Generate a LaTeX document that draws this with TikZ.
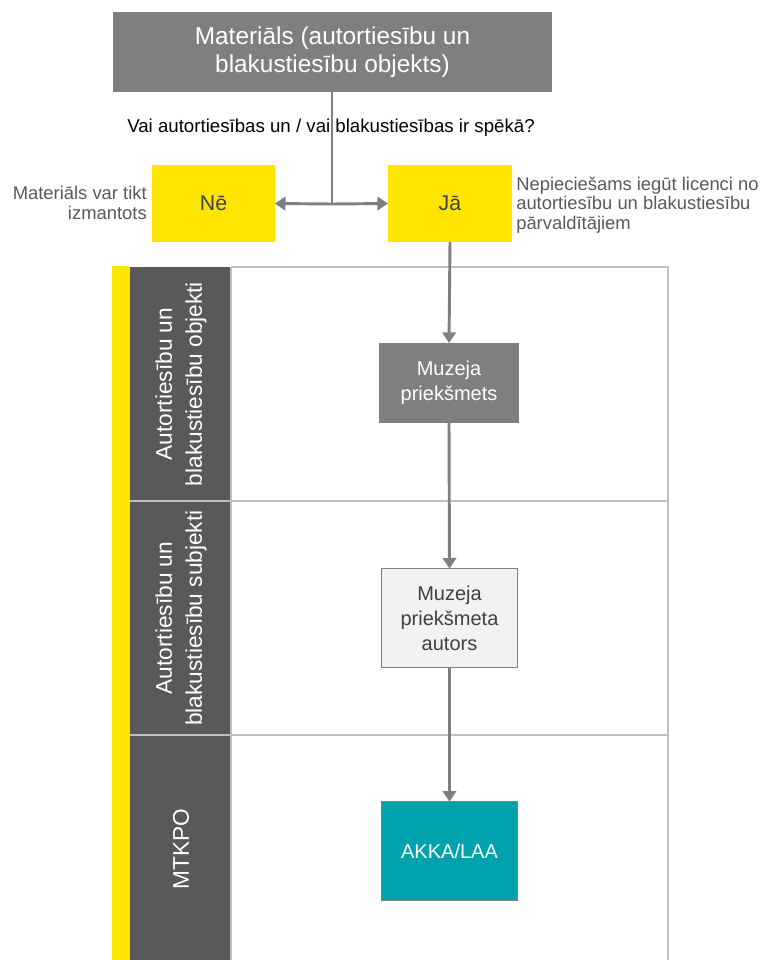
\documentclass[tikz,border=0pt]{standalone}
\usepackage{fontspec}
\setmainfont{Liberation Sans}
\usetikzlibrary{arrows.meta}
\usepackage{xcolor}
\definecolor{midgray}{HTML}{7F7F7F}
\definecolor{darkgray}{HTML}{595959}
\definecolor{textgray}{HTML}{404040}
\definecolor{lanegray}{HTML}{BFBFBF}
\definecolor{signyellow}{HTML}{FFE500}
\definecolor{boxteal}{HTML}{00A3AD}
\definecolor{paleface}{HTML}{F2F2F2}

\tikzset{
box/.style={inner sep=0, outer sep=0, align=center, font=\fontsize{15}{18.75}\selectfont},
answer/.style={box, fill=signyellow, text=textgray, minimum height=58pt, font=\fontsize{16}{19}\selectfont},
note/.style={text=darkgray, inner sep=0, font=\fontsize{13.8}{14.5}\selectfont},
lanehead/.style={rotate=90, text=white, align=center, font=\fontsize{17}{22.5}\selectfont},
flow/.style={midgray, line width=2.2pt, ->}
}

\begin{document}
\begin{tikzpicture}[x=0.75pt, y=-0.75pt, >={Triangle[width=10pt,length=8pt]}]
\useasboundingbox (0,0) rectangle (765,960);
\fill[signyellow] (112,266) rectangle (130,960);
\fill[darkgray] (130,267) rectangle (231,960);
\draw[lanegray, line width=0.8pt] (231,267) -- (668,267) -- (668,960);
\draw[lanegray, line width=0.8pt] (231,267) -- (231,960);
\foreach \y in {501,735} {
\draw[lanegray, line width=0.8pt] (130,\y) -- (668,\y);
}
\node[lanehead] (objekti) at (181,384) {Autortiesību un\\blakustiesību objekti};
\node[lanehead] (subjekti) at (181,618) {Autortiesību un\\blakustiesību subjekti};
\node[lanehead] (mtkpo) at (181,849) {MTKPO};

\node[box, fill=midgray, text=white, minimum width=329pt, minimum height=60pt, font=\fontsize{18.3}{21}\selectfont] (mat) at (332.5,52) {Materiāls (autortiesību un\\blakustiesību objekts)};
\node[answer, minimum width=92pt] (ne) at (213.5,203.5) {Nē};
\node[answer, minimum width=93pt] (ja) at (450,203.5) {Jā};
\coordinate (split) at (332,204);
\node[font=\fontsize{14}{16}\selectfont, text=black] (q) at (331,128) {Vai autortiesības un / vai blakustiesības ir spēkā?};
\node[note, anchor=east, align=right] (nenote) at (147,203) {Materiāls var tikt\\izmantots};
\node[note, anchor=west, align=left] (janote) at (516,205) {Nepieciešams iegūt licenci no\\autortiesību un blakustiesību\\pārvaldītājiem};

\node[box, fill=midgray, text=white, minimum width=105pt, minimum height=60pt] (muz) at (449,383) {Muzeja\\priekšmets};
\node[box, fill=paleface, draw=midgray, line width=1.1pt, text=textgray, minimum width=102pt, minimum height=74pt] (aut) at (449.5,618) {Muzeja\\priekšmeta\\autors};
\node[box, fill=boxteal, draw=midgray, line width=1.1pt, text=white, minimum width=102pt, minimum height=74pt] (akka) at (449.5,851) {AKKA/LAA};

\draw[midgray, line width=2.2pt] (mat.south -| split) -- (split);
\draw[flow] (split) -- (ne.east);
\draw[flow] (split) -- (ja.west);
\draw[flow] (ja.south) -- (muz.north);
\draw[flow] (muz.south) -- (aut.north);
\draw[flow] (aut.south) -- (akka.north);
\end{tikzpicture}
\end{document}
